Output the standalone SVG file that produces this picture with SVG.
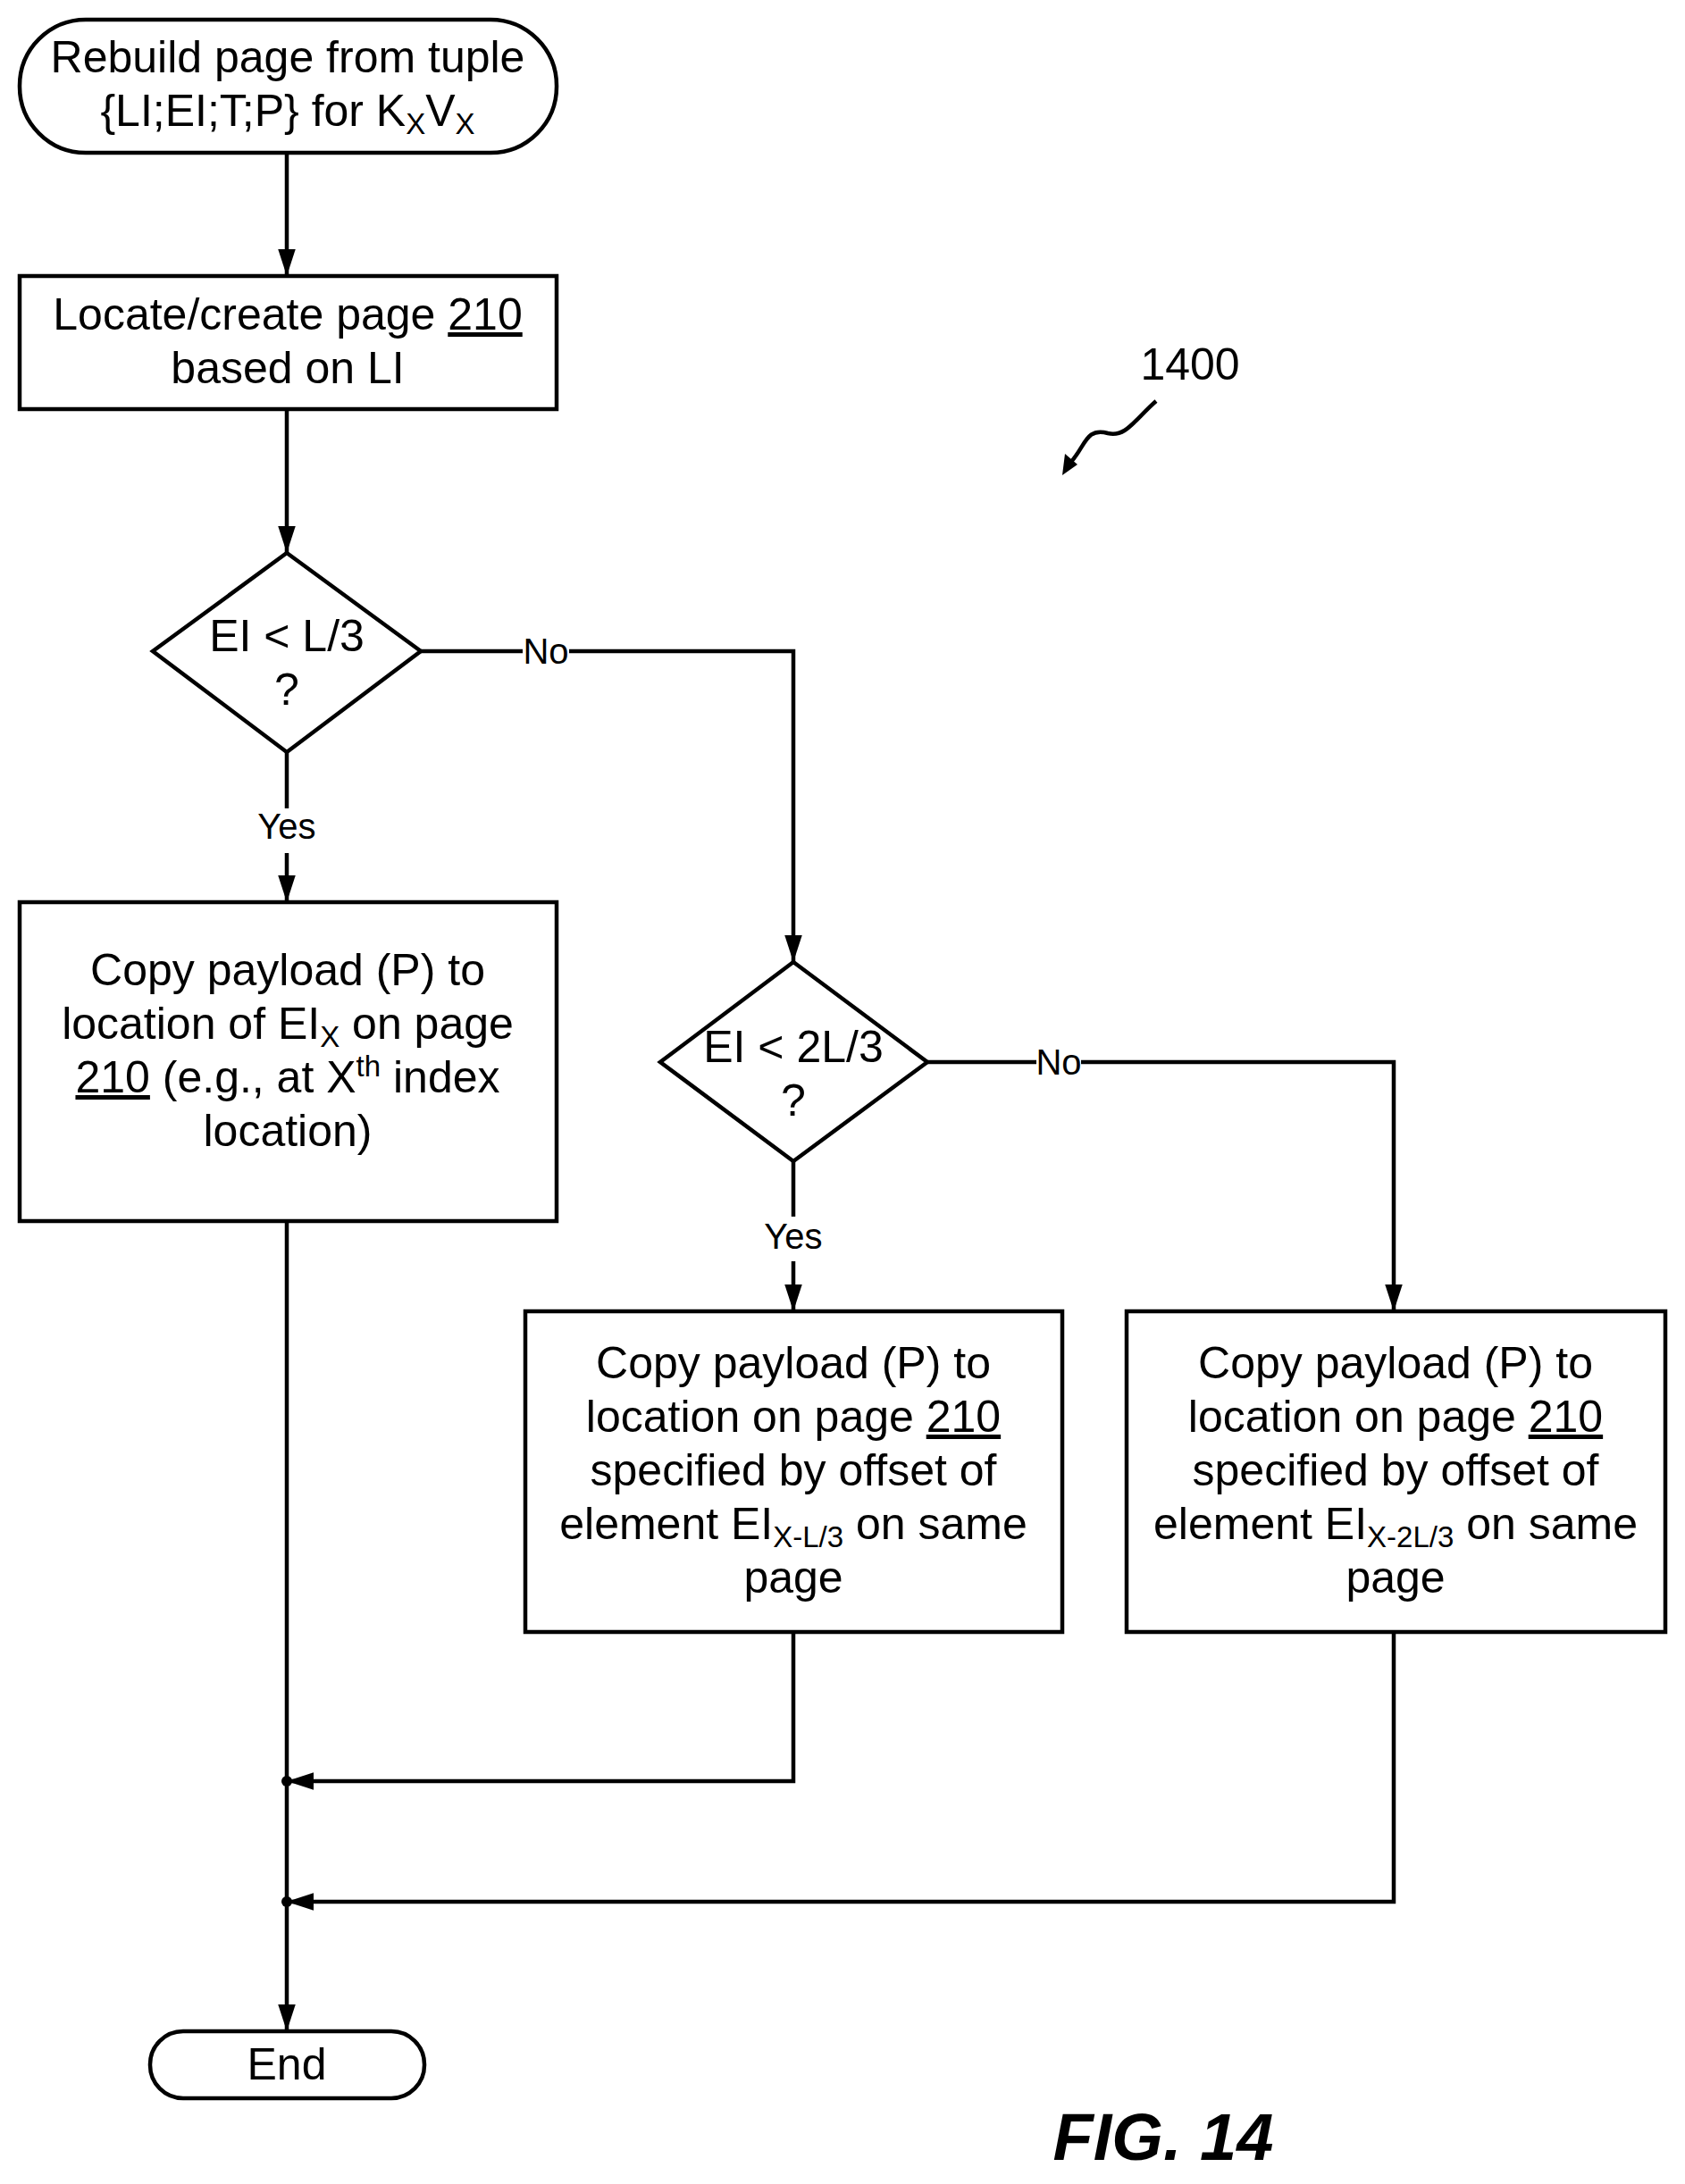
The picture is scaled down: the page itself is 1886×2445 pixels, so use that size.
<svg xmlns="http://www.w3.org/2000/svg" width="1886" height="2445" viewBox="0 0 1886 2445">
<style>
.s{fill:#fff;stroke:#000;stroke-width:4.5}
.t{font-family:"Liberation Sans",Arial,sans-serif;font-size:50px;text-anchor:middle;fill:#000}
.l{font-family:"Liberation Sans",Arial,sans-serif;font-size:40px;text-anchor:middle;fill:#000}
.c{fill:none;stroke:#000;stroke-width:4.5}
</style>
<defs><marker id="a" markerWidth="30" markerHeight="40" refX="40" refY="13" orient="auto" markerUnits="userSpaceOnUse" viewBox="0 0 40 26"><path d="M0,0L40,13L0,26z" fill="#000"/></marker></defs>
<rect width="1886" height="2445" fill="#fff"/>
<g id="connectors">
<line class="c" x1="321" y1="171" x2="321" y2="309" marker-end="url(#a)"/>
<line class="c" x1="321" y1="458" x2="321" y2="619" marker-end="url(#a)"/>
<path class="c" d="M321,842V905M321,955V1010" marker-end="url(#a)"/>
<path class="c" d="M471,729H585M637,729H888V1077" marker-end="url(#a)"/>
<path class="c" d="M888,1300V1362M888,1412V1468" marker-end="url(#a)"/>
<path class="c" d="M1038,1189H1160M1210,1189H1560V1468" marker-end="url(#a)"/>
<line class="c" x1="321" y1="1367" x2="321" y2="2274" marker-end="url(#a)"/>
<path class="c" d="M888,1827V1994H321" marker-end="url(#a)"/>
<path class="c" d="M1560,1827V2129H321" marker-end="url(#a)"/>
<circle cx="321" cy="1994" r="6"/><circle cx="321" cy="2129" r="6"/>
<text class="l" x="611" y="743">No</text>
<text class="l" x="1185" y="1203">No</text>
<text class="l" x="321" y="939">Yes</text>
<text class="l" x="888" y="1398">Yes</text>
</g>
<g id="start"><rect class="s" x="22" y="22" width="601" height="149" rx="74"/>
<text class="t" x="322" y="81">Rebuild page from tuple</text>
<text class="t" x="322" y="141">{LI;EI;T;P} for K<tspan font-size="33" dy="9">X</tspan><tspan dy="-9">V</tspan><tspan font-size="33" dy="9">X</tspan></text></g>
<g id="locate"><rect class="s" x="22" y="309" width="601" height="149"/>
<text class="t" x="322" y="369">Locate/create page <tspan text-decoration="underline">210</tspan></text>
<text class="t" x="322" y="429">based on LI</text></g>
<g id="d1"><polygon class="s" points="321,619 471,729 321,842 171,729"/>
<text class="t" x="321" y="729">EI &lt; L/3</text><text class="t" x="321" y="789">?</text></g>
<g id="b2"><rect class="s" x="22" y="1010" width="601" height="357"/>
<text class="t" x="322" y="1103">Copy payload (P) to</text>
<text class="t" x="322" y="1163">location of EI<tspan font-size="33" dy="9">X</tspan><tspan dy="-9"> on page</tspan></text>
<text class="t" x="322" y="1223"><tspan text-decoration="underline">210</tspan> (e.g., at X<tspan font-size="33" dy="-18">th</tspan><tspan dy="18"> index</tspan></text>
<text class="t" x="322" y="1283">location)</text></g>
<g id="d2"><polygon class="s" points="888,1077 1038,1189 888,1300 739,1189"/>
<text class="t" x="888" y="1189">EI &lt; 2L/3</text><text class="t" x="888" y="1249">?</text></g>
<g id="b3"><rect class="s" x="588" y="1468" width="601" height="359"/>
<text class="t" x="888" y="1543">Copy payload (P) to</text>
<text class="t" x="888" y="1603">location on page <tspan text-decoration="underline">210</tspan></text>
<text class="t" x="888" y="1663">specified by offset of</text>
<text class="t" x="888" y="1723">element EI<tspan font-size="33" dy="9">X-L/3</tspan><tspan dy="-9"> on same</tspan></text>
<text class="t" x="888" y="1783">page</text></g>
<g id="b4"><rect class="s" x="1261" y="1468" width="603" height="359"/>
<text class="t" x="1562" y="1543">Copy payload (P) to</text>
<text class="t" x="1562" y="1603">location on page <tspan text-decoration="underline">210</tspan></text>
<text class="t" x="1562" y="1663">specified by offset of</text>
<text class="t" x="1562" y="1723">element EI<tspan font-size="33" dy="9">X-2L/3</tspan><tspan dy="-9"> on same</tspan></text>
<text class="t" x="1562" y="1783">page</text></g>
<g id="end"><rect class="s" x="168" y="2274" width="307" height="75" rx="37"/>
<text class="t" x="321" y="2328">End</text></g>
<g id="ref"><text class="t" x="1332" y="425" font-size="54">1400</text>
<path class="c" d="M1294,449C1270,470 1260,490 1240,485C1215,478 1215,500 1198,518" stroke-width="3"/>
<path d="M1189,532L1192,508L1206,520z" fill="#000"/>
<text x="1302" y="2418" font-family="Liberation Sans,Arial,sans-serif" font-size="74" font-weight="bold" font-style="italic" text-anchor="middle">FIG. 14</text></g>
</svg>
